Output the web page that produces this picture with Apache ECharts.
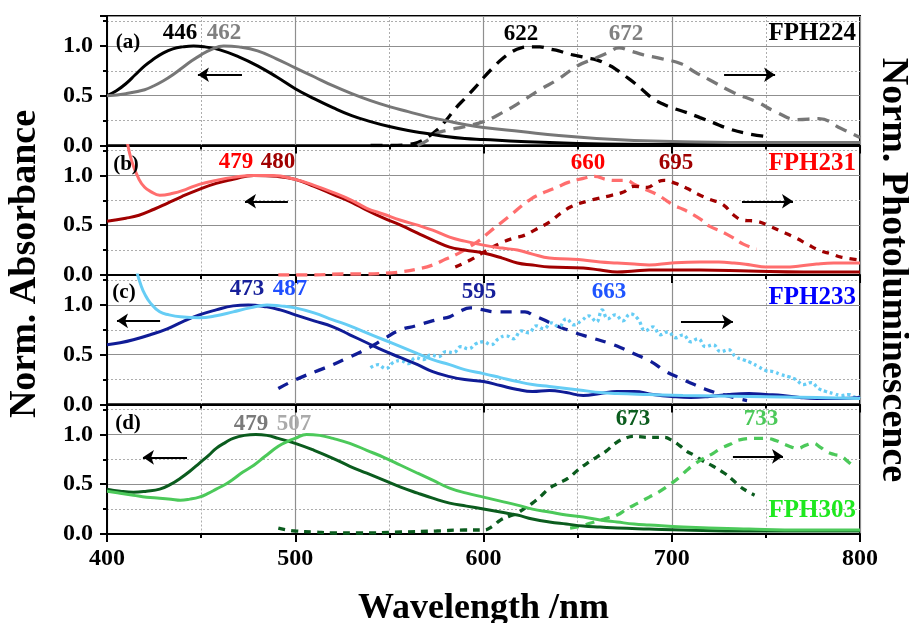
<!DOCTYPE html>
<html><head><meta charset="utf-8">
<script src="https://cdn.jsdelivr.net/npm/echarts@6/dist/echarts.min.js"></script>
<style>html,body{margin:0;padding:0;background:#fff}#c{width:909px;height:623px}</style>
</head><body><div id="c"></div>
<script>
// ---------------- DATA ----------------
const xTickValues = [400, 500, 600, 700, 800];
const yTickValues = [0, 0.5, 1.0];
const yTickLabels = ['0.0', '0.5', '1.0'];

// (a) FPH224
const absA446 = [[400,0.50],[405,0.55],[410,0.62],[415,0.71],[420,0.80],[425,0.87],[430,0.93],[435,0.97],[440,0.99],[446,1.00],[452,0.99],[460,0.96],[470,0.89],[480,0.80],[490,0.69],[500,0.57],[510,0.47],[520,0.38],[530,0.30],[540,0.24],[550,0.19],[560,0.15],[570,0.12],[580,0.09],[590,0.07],[600,0.06],[620,0.04],[650,0.02],[700,0.01],[750,0.01],[800,0.01]];
const absA462 = [[400,0.50],[410,0.52],[420,0.56],[425,0.60],[430,0.65],[435,0.71],[440,0.78],[445,0.85],[450,0.91],[455,0.96],[462,1.00],[470,0.99],[480,0.95],[490,0.87],[500,0.78],[510,0.69],[520,0.60],[530,0.52],[540,0.45],[550,0.39],[560,0.34],[570,0.29],[580,0.25],[590,0.21],[600,0.18],[620,0.14],[640,0.10],[660,0.07],[680,0.05],[700,0.04],[750,0.03],[800,0.03]];
const plA622 = [[540,0.00],[550,0.00],[560,0.01],[565,0.03],[570,0.08],[575,0.15],[580,0.25],[585,0.37],[590,0.47],[595,0.57],[600,0.68],[605,0.78],[610,0.87],[615,0.94],[620,0.98],[625,0.99],[630,0.99],[635,0.97],[640,0.95],[645,0.92],[650,0.90],[655,0.88],[660,0.86],[665,0.82],[670,0.77],[675,0.70],[680,0.63],[685,0.55],[690,0.47],[695,0.42],[700,0.38],[708,0.33],[715,0.28],[722,0.23],[730,0.17],[740,0.12],[750,0.09]];
const plA672 = [[565,0.00],[570,0.05],[575,0.12],[580,0.15],[590,0.19],[600,0.24],[610,0.33],[620,0.44],[630,0.56],[640,0.67],[650,0.80],[660,0.88],[666,0.93],[672,0.98],[678,0.95],[685,0.91],[695,0.87],[705,0.82],[712,0.74],[720,0.66],[733,0.53],[745,0.44],[755,0.34],[767,0.26],[778,0.27],[790,0.17],[800,0.08]];

// (b) FPH231
const absB479 = [[410,1.42],[413,1.15],[417,0.96],[420,0.88],[423,0.84],[428,0.80],[435,0.82],[442,0.86],[449,0.91],[458,0.95],[467,0.98],[478,1.00],[488,1.00],[500,0.96],[510,0.90],[520,0.83],[530,0.75],[538,0.67],[547,0.61],[556,0.55],[565,0.50],[573,0.45],[582,0.38],[590,0.34],[600,0.30],[610,0.27],[618,0.25],[626,0.21],[635,0.17],[645,0.16],[653,0.15],[662,0.13],[671,0.12],[680,0.11],[688,0.10],[700,0.12],[715,0.13],[725,0.13],[733,0.12],[742,0.10],[750,0.08],[760,0.08],[768,0.09],[777,0.11],[786,0.12],[800,0.12]];
const absB480 = [[400,0.54],[410,0.57],[417,0.60],[425,0.66],[432,0.72],[440,0.79],[449,0.86],[458,0.92],[467,0.96],[478,1.00],[490,0.99],[500,0.96],[510,0.89],[520,0.81],[530,0.73],[538,0.65],[547,0.57],[556,0.50],[565,0.42],[573,0.35],[582,0.28],[590,0.25],[600,0.22],[610,0.17],[618,0.12],[626,0.10],[635,0.08],[653,0.07],[662,0.05],[671,0.03],[680,0.04],[688,0.05],[700,0.05],[715,0.05],[741,0.04],[770,0.03],[800,0.03]];
const plB660 = [[491,0.00],[510,0.00],[525,0.01],[538,0.01],[550,0.02],[556,0.03],[565,0.06],[573,0.10],[580,0.16],[587,0.22],[593,0.29],[598,0.35],[603,0.43],[609,0.52],[615,0.61],[620,0.69],[625,0.76],[630,0.81],[635,0.85],[640,0.89],[645,0.93],[653,0.97],[659,0.99],[665,0.96],[670,0.95],[676,0.95],[680,0.91],[686,0.86],[692,0.81],[697,0.75],[701,0.70],[706,0.66],[711,0.61],[716,0.55],[720,0.49],[726,0.44],[732,0.38],[738,0.31],[745,0.26]];
const plB695 = [[585,0.08],[593,0.15],[601,0.24],[609,0.32],[616,0.37],[622,0.40],[628,0.46],[635,0.53],[641,0.62],[647,0.69],[655,0.74],[661,0.77],[668,0.80],[674,0.83],[680,0.89],[687,0.88],[692,0.93],[696,0.95],[702,0.92],[708,0.87],[714,0.81],[720,0.76],[727,0.71],[733,0.60],[738,0.55],[745,0.54],[752,0.49],[758,0.44],[765,0.38],[772,0.31],[778,0.25],[785,0.21],[790,0.18],[800,0.15]];

// (c) FPH233
const absC473 = [[400,0.60],[407,0.62],[414,0.65],[423,0.70],[432,0.76],[440,0.83],[449,0.90],[458,0.95],[467,0.99],[475,1.00],[485,0.98],[492,0.95],[500,0.90],[510,0.84],[520,0.78],[529,0.70],[538,0.62],[547,0.54],[556,0.47],[565,0.40],[573,0.33],[582,0.28],[590,0.25],[600,0.23],[609,0.19],[618,0.15],[626,0.13],[635,0.14],[644,0.12],[653,0.09],[662,0.11],[671,0.13],[680,0.13],[690,0.10],[700,0.08],[710,0.07],[720,0.08],[730,0.10],[741,0.11],[750,0.10],[759,0.09],[768,0.07],[777,0.06],[790,0.06],[800,0.07]];
const absC487 = [[416,1.32],[418,1.20],[420,1.11],[423,1.02],[428,0.93],[433,0.90],[439,0.88],[449,0.87],[458,0.89],[467,0.93],[476,0.97],[485,1.00],[492,0.99],[500,0.97],[510,0.92],[520,0.85],[529,0.79],[538,0.72],[547,0.65],[556,0.58],[565,0.51],[573,0.45],[582,0.40],[590,0.35],[600,0.31],[609,0.27],[618,0.23],[626,0.20],[635,0.18],[644,0.16],[653,0.14],[662,0.12],[671,0.11],[688,0.10],[706,0.09],[741,0.08],[777,0.07],[800,0.06]];
const plC595 = [[491,0.16],[497,0.22],[504,0.28],[512,0.34],[520,0.40],[527,0.46],[535,0.53],[542,0.60],[548,0.67],[556,0.75],[564,0.79],[571,0.83],[577,0.86],[582,0.88],[587,0.93],[593,0.97],[600,0.95],[606,0.93],[614,0.93],[622,0.93],[627,0.89],[632,0.85],[640,0.78],[646,0.74],[652,0.70],[659,0.66],[666,0.62],[673,0.57],[680,0.51],[689,0.43],[697,0.33],[705,0.26],[712,0.20],[717,0.16],[723,0.12],[729,0.09],[735,0.06],[740,0.04]];
const plC663 = [[540,0.37],[544,0.40],[548,0.36],[552,0.42],[556,0.44],[560,0.41],[564,0.47],[568,0.45],[572,0.50],[576,0.48],[580,0.53],[584,0.52],[588,0.58],[592,0.56],[596,0.61],[600,0.63],[604,0.60],[608,0.66],[612,0.69],[616,0.66],[620,0.74],[624,0.72],[628,0.79],[632,0.76],[636,0.82],[640,0.78],[644,0.86],[648,0.80],[652,0.84],[656,0.89],[660,0.83],[663,0.95],[666,0.86],[670,0.90],[674,0.84],[678,0.91],[682,0.86],[686,0.74],[690,0.78],[694,0.70],[698,0.73],[702,0.67],[706,0.70],[710,0.63],[714,0.66],[718,0.58],[722,0.60],[726,0.53],[730,0.55],[734,0.48],[738,0.45],[742,0.42],[746,0.38],[750,0.34],[754,0.33],[758,0.30],[762,0.28],[766,0.25],[770,0.20],[774,0.22],[778,0.16],[782,0.13],[786,0.11],[790,0.09],[794,0.10],[798,0.07],[800,0.08]];

// (d) FPH303
const absD479 = [[400,0.45],[407,0.43],[414,0.42],[421,0.43],[428,0.45],[434,0.50],[439,0.56],[444,0.63],[449,0.71],[454,0.79],[458,0.86],[463,0.92],[467,0.96],[473,0.99],[479,1.00],[485,0.99],[491,0.96],[500,0.91],[510,0.84],[520,0.76],[529,0.68],[538,0.61],[547,0.54],[556,0.47],[565,0.41],[573,0.36],[582,0.31],[591,0.28],[600,0.25],[609,0.22],[618,0.19],[626,0.15],[635,0.12],[644,0.10],[653,0.08],[662,0.07],[671,0.06],[688,0.05],[706,0.04],[740,0.03],[800,0.03]];
const absD507 = [[400,0.43],[407,0.41],[414,0.39],[421,0.37],[428,0.36],[434,0.35],[439,0.34],[444,0.35],[449,0.37],[454,0.41],[458,0.45],[463,0.50],[467,0.55],[472,0.62],[478,0.69],[484,0.78],[491,0.88],[496,0.93],[500,0.96],[506,1.00],[513,0.99],[520,0.96],[529,0.91],[538,0.84],[547,0.77],[556,0.69],[565,0.61],[573,0.54],[582,0.46],[591,0.41],[600,0.37],[609,0.33],[618,0.29],[626,0.25],[635,0.22],[644,0.19],[653,0.17],[662,0.14],[671,0.12],[680,0.10],[688,0.09],[706,0.07],[741,0.05],[770,0.04],[800,0.04]];
const plD673 = [[491,0.06],[496,0.04],[500,0.03],[510,0.02],[520,0.01],[535,0.01],[556,0.02],[575,0.03],[590,0.04],[600,0.04],[605,0.08],[609,0.14],[614,0.18],[618,0.21],[622,0.26],[626,0.31],[631,0.39],[635,0.46],[640,0.51],[645,0.56],[650,0.64],[655,0.71],[660,0.77],[665,0.83],[670,0.91],[675,0.96],[680,0.98],[688,0.97],[696,0.97],[700,0.94],[704,0.89],[708,0.83],[712,0.79],[716,0.74],[722,0.68],[728,0.61],[732,0.55],[736,0.48],[740,0.43],[744,0.39]];
const plD733 = [[646,0.06],[652,0.08],[657,0.11],[664,0.15],[671,0.19],[676,0.25],[682,0.31],[688,0.37],[693,0.42],[700,0.51],[704,0.57],[708,0.64],[712,0.70],[717,0.76],[722,0.81],[726,0.86],[731,0.90],[735,0.94],[744,0.96],[750,0.96],[755,0.94],[760,0.90],[764,0.87],[767,0.86],[771,0.89],[775,0.91],[779,0.87],[782,0.83],[786,0.80],[790,0.78],[794,0.72],[797,0.67]];

// ---------------- STYLE / LAYOUT ----------------
const FONT = "'Liberation Serif','Times New Roman',serif";
const PANEL_TOPS = [16, 145.5, 275, 404.5];
const PANEL_H = 129.5;
const C = {
  black:'#000000', gray:'#777777',
  lred:'#ff6e6e', dred:'#a00000',
  dblue:'#101c96', lblue:'#66cdf5',
  dgreen:'#0b5c1e', lgreen:'#4cc95a'
};

const seriesDefs = [
  {g:0, data:plA622, color:C.black, type:[12,8], w:3.3},
  {g:0, data:plA672, color:C.gray, type:[12,8], w:3.3},
  {g:0, data:absA446, color:C.black, type:'solid', w:3},
  {g:0, data:absA462, color:C.gray, type:'solid', w:3},
  {g:1, data:plB660, color:C.lred, type:[11,7], w:3.3},
  {g:1, data:plB695, color:C.dred, type:[7,7], w:3.3},
  {g:1, data:absB480, color:C.dred, type:'solid', w:3},
  {g:1, data:absB479, color:C.lred, type:'solid', w:3},
  {g:2, data:plC595, color:C.dblue, type:[11,9], w:3.3},
  {g:2, data:plC663, color:C.lblue, type:[3,3], w:3.3},
  {g:2, data:absC473, color:C.dblue, type:'solid', w:3},
  {g:2, data:absC487, color:C.lblue, type:'solid', w:3},
  {g:3, data:plD673, color:C.dgreen, type:[7,6], w:3.3},
  {g:3, data:plD733, color:C.lgreen, type:[9,7], w:3.3},
  {g:3, data:absD479, color:C.dgreen, type:'solid', w:3},
  {g:3, data:absD507, color:C.lgreen, type:'solid', w:3}
];

// arrows: [fromX, toX, y] in data coordinates per panel
const arrowDefs = [
  [[471.7,448.3,0.71],[727.8,754.9,0.71]],
  [[496.1,473.3,0.74],[737.3,764.4,0.74]],
  [[428.2,405.3,0.84],[704.9,732.5,0.83]],
  [[442.5,419.1,0.77],[732.5,759.1,0.78]]
];

// text annotations
const texts = [
  ['(a)',128,43,C.black,21],['446',180,33,'#000000',23],['462',224,33,'#808080',23],
  ['622',521,34,'#000000',23],['672',626,34,'#808080',23],
  ['(b)',126,165,C.black,21],['479',236,162,'#ff0000',23],['480',278,162,'#a00000',23],
  ['660',588,163,'#ff0000',23],['695',676,163,'#a00000',23],
  ['(c)',124,293,C.black,21],['473',247,289,'#17209a',23],['487',290,289,'#1f4fff',23],
  ['595',479,292,'#17209a',23],['663',609,292,'#1f55ff',23],
  ['(d)',128,424,C.black,21],['479',251,424,'#7a7a7a',23],['507',294,424,'#aaaaaa',23],
  ['673',633,419,C.dgreen,23],['733',761,419,C.lgreen,23]
];
const nameLabels = [
  ['FPH224',856,34,'#000000'],['FPH231',856,164,'#ff0000'],
  ['FPH233',856,298,'#0000ff'],['FPH303',856,511,'#1ee81e']
];

const grids = [], xAxes = [], yAxes = [];
PANEL_TOPS.forEach((top, i) => {
  const last = i === PANEL_TOPS.length - 1;
  grids.push({left:107, right:49, top:top, height:PANEL_H, show:true, borderColor:'#000', borderWidth:2,
    backgroundColor:'transparent', containLabel:false, outerBoundsMode:'none'});
  xAxes.push({
    type:'value', gridIndex:i, min:xTickValues[0], max:xTickValues[xTickValues.length-1], interval:100,
    axisLine:{show:true, onZero:false, lineStyle:{color:'#000', width:2}},
    axisTick:{show:true, length:8, lineStyle:{color:'#000', width:2}},
    minorTick:{show:true, splitNumber:2, length:4, lineStyle:{color:'#000', width:2}},
    splitLine:{show:true, lineStyle:{color:'#8f8f8f', width:1.2}},
    minorSplitLine:{show:true, lineStyle:{color:'#adadad', width:1, type:[2,2]}},
    axisLabel:{show:last, fontFamily:FONT, fontWeight:'bold', fontSize:24, color:'#000', margin:13,
      formatter: v => xTickValues.includes(v) ? String(v) : ''},
    name: last ? 'Wavelength /nm' : '', nameLocation:'middle', nameGap:57,
    nameTextStyle:{fontFamily:FONT, fontWeight:'bold', fontSize:36, color:'#000'}
  });
  yAxes.push({
    type:'value', gridIndex:i, min:0, max:1.3, interval:0.5,
    axisLine:{show:true, onZero:false, lineStyle:{color:'#000', width:2}},
    axisTick:{show:true, length:7, lineStyle:{color:'#000', width:2}},
    minorTick:{show:true, splitNumber:2, length:4, lineStyle:{color:'#000', width:2}},
    splitLine:{show:true, lineStyle:{color:'#8f8f8f', width:1.2}},
    minorSplitLine:{show:true, lineStyle:{color:'#adadad', width:1, type:[2,2]}},
    axisLabel:{fontFamily:FONT, fontWeight:'bold', fontSize:24, color:'#000', margin:14,
      showMaxLabel:false,
      formatter: v => { const k = yTickValues.findIndex(t => Math.abs(t - v) < 1e-6); return k >= 0 ? yTickLabels[k] : ''; }}
  });
});

const series = seriesDefs.map((d, idx) => ({
  type:'line', xAxisIndex:d.g, yAxisIndex:d.g, data:d.data, symbol:'none', showSymbol:false,
  smooth:0.45, clip:true, z:3,
  lineStyle:{color:d.color, width:d.w, type:d.type},
  emphasis:{disabled:true}
}));
// attach arrows to one series per panel
arrowDefs.forEach((arr, g) => {
  const s = series.find(x => x.xAxisIndex === g);
  s.markLine = {
    silent:true, animation:false, symbol:['none','arrow'], symbolSize:11,
    label:{show:false}, lineStyle:{color:'#000', width:2, type:'solid'},
    emphasis:{disabled:true},
    data: arr.map(a => [{coord:[a[0], a[2]]}, {coord:[a[1], a[2]]}])
  };
});

const graphic = [];
texts.forEach(t => graphic.push({type:'text', x:t[1], y:t[2], silent:true, z:10,
  style:{text:t[0], fill:t[3], fontFamily:FONT, fontWeight:'bold', fontSize:t[4], align:'center', verticalAlign:'middle'}}));
nameLabels.forEach(t => graphic.push({type:'text', x:t[1], y:t[2], silent:true, z:10,
  style:{text:t[0], fill:t[3], fontFamily:FONT, fontWeight:'bold', fontSize:25, align:'right', verticalAlign:'middle'}}));
graphic.push({type:'text', x:25, y:264, rotation:Math.PI/2, silent:true,
  style:{text:'Norm. Absorbance', fill:'#000', fontFamily:FONT, fontWeight:'bold', fontSize:38, align:'center', verticalAlign:'middle'}});
graphic.push({type:'text', x:893, y:270, rotation:-Math.PI/2, silent:true,
  style:{text:'Norm. Photoluminescence', fill:'#000', fontFamily:FONT, fontWeight:'bold', fontSize:38, align:'center', verticalAlign:'middle'}});

const chart = echarts.init(document.getElementById('c'), null, {renderer:'canvas'});
chart.setOption({
  animation:false, backgroundColor:'#fff',
  grid:grids, xAxis:xAxes, yAxis:yAxes, series:series, graphic:graphic
});
</script></body></html>
